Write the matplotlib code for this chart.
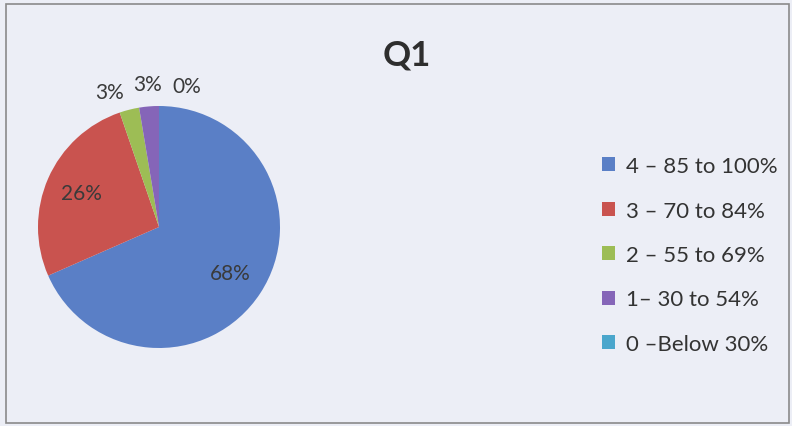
import matplotlib.pyplot as plt
from matplotlib.patches import Rectangle
import numpy as np

# Q1 score bands (student counts)
bands = ['4 – 85 to 100%', '3 – 70 to 84%', '2 – 55 to 69%', '1– 30 to 54%', '0 –Below 30%']
counts = [26, 10, 1, 1, 0]
colours = ['#5a7fc6', '#c9534f', '#9dbd55', '#8565b8', '#4aa6cc']

bg = '#eceef6'
plt.rcParams['font.family'] = ['Lato', 'DejaVu Sans']

fig = plt.figure(figsize=(7.92, 4.27), dpi=100, facecolor=bg)
fig.patches.append(Rectangle((6/792, 3/427), 783/792, 419/427, transform=fig.transFigure,
                             fill=False, edgecolor='#8a8a8a', linewidth=1.2))

ax = fig.add_axes([38/792, 78/427, 242/792, 242/427])
ax.set_facecolor(bg)
wedges, texts, autotexts = ax.pie(counts, colors=colours, startangle=90, counterclock=False,
                                  autopct='%1.0f%%', pctdistance=0.7,
                                  textprops={'fontsize': 15, 'color': '#3a3a3a'})
ax.set_xlim(-1, 1)
ax.set_ylim(-1, 1)

# small slices get their labels outside, Excel style
nudge = [0, 0, 6, 0, -11]
for w, t, n in zip(wedges, autotexts, nudge):
    if w.theta2 - w.theta1 < 20:
        a = np.deg2rad((w.theta1 + w.theta2) / 2 + n)
        t.set_position((1.19 * np.cos(a), 1.19 * np.sin(a)))
        t.set_ha('center')
        t.set_va('center')

fig.text(407/792, 1 - 56/427, 'Q1', ha='center', va='center', fontsize=25, fontweight='bold', color='#2e2e2e')

fig.legend(wedges, bands, loc='center left', bbox_to_anchor=(582/792, 1 - 256/427),
           frameon=False, fontsize=16, handlelength=0.6, handleheight=0.6,
           handletextpad=0.5, labelspacing=1.1, labelcolor='#333333')

plt.savefig('out.png', dpi=100, facecolor=bg)
